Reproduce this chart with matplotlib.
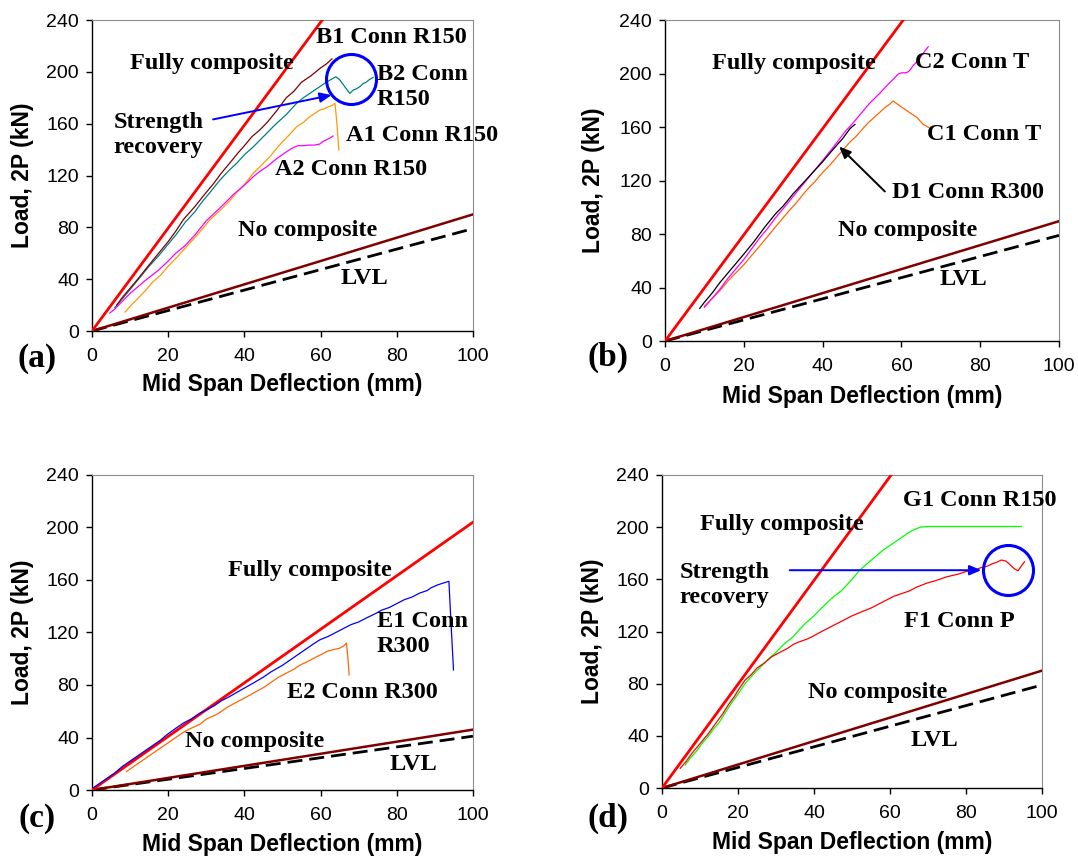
import matplotlib
matplotlib.use("Agg")
import matplotlib.pyplot as plt

# ---------------------------------------------------------------- data
# Reference lines (deflection mm, load kN) for each panel
full_a_x, full_a_y = [0, 100], [0, 397]
nocomp_a_x, nocomp_a_y = [0, 100], [0, 90]
lvl_a_x, lvl_a_y = [0, 100], [0, 79]

full_b_x, full_b_y = [0, 100], [0, 397]
nocomp_b_x, nocomp_b_y = [0, 100], [0, 89.6]
lvl_b_x, lvl_b_y = [0, 100], [0, 79]

full_c_x, full_c_y = [0, 100], [0, 204]
nocomp_c_x, nocomp_c_y = [0, 100], [0, 46]
lvl_c_x, lvl_c_y = [0, 100], [0, 41]

full_d_x, full_d_y = [0, 100], [0, 398]
nocomp_d_x, nocomp_d_y = [0, 100], [0, 90]
lvl_d_x, lvl_d_y = [0, 100], [0, 79]

# (a) connection R150 beams
b1_x = [6.5, 8, 10, 12, 15, 17.5, 20, 22, 24, 27, 30, 32, 34, 36, 38.5, 40, 42,
        44, 46, 48.5, 51, 53, 55, 57.5, 60, 61.5, 63]
b1_y = [20, 26, 33, 40, 51, 60, 69, 77, 86, 96, 107, 114, 122, 129, 138, 143, 150,
        155, 161, 170, 180, 185, 192, 197, 203, 206, 210]
b2_x = [6, 8, 10, 12.5, 15, 17.5, 20, 22, 24.5, 27, 29, 31, 33.6, 36, 38, 40, 42.3,
        45, 48, 51, 53.7, 55.5, 57, 58.5, 59.8, 61, 62.5, 64, 65, 66, 67, 67.7,
        68.6, 69.5, 70.5, 71.2, 72, 72.8, 73.8]
b2_y = [18, 25, 32, 41, 50, 58, 67, 74, 84, 92, 100, 107, 116.5, 124, 129.5, 136, 142,
        150, 159, 167, 175.7, 180, 183, 186, 188.5, 191, 193.7, 196.2, 194, 190, 186,
        183.4, 186, 187, 189, 191, 192, 194, 195.7]
a1_x = [8.7, 10, 12, 14, 16, 18, 20, 22, 24.5, 27, 28.9, 31, 33.6, 36, 38, 40, 42.3,
        44.5, 46.7, 48.5, 50, 52, 53.7, 55.5, 57, 58.5, 59.8, 61, 62, 63, 63.8,
        64.3, 64.8]
a1_y = [14.7, 19, 25, 31, 38, 43, 50, 56, 64, 72, 78.5, 86, 93, 100, 107, 113, 121.7,
        128, 134.5, 141, 146, 152, 157.6, 161, 165, 168, 170.5, 171.5, 173, 174, 175.7,
        160, 139.7]
a2_x = [4.7, 6, 8, 10, 12, 14, 17.5, 20, 22, 24.5, 27, 30, 33.6, 35, 37, 40.2, 42.3,
        44, 46, 48.5, 51.1, 52.5, 54, 55.5, 57, 58.5, 59.8, 60.5, 61.5, 62.5, 63.3]
a2_y = [13.9, 17, 23, 29, 34, 39, 47, 54, 60, 66, 74, 85, 95, 99, 105, 113, 119,
        123, 127, 133, 138.4, 141, 143, 143, 143.5, 143.5, 144.3, 146, 147.5, 149, 150.5]

# (b) connection T and R300 beams
c2_x = [10, 12, 14, 16, 18, 20, 22, 24, 26, 28, 30, 32.5, 35, 37.5, 40, 43, 45.7,
        48, 50, 52, 54.5, 56, 57, 58, 59.2, 60, 61.3, 62, 63, 64, 65, 66, 66.8]
c2_y = [25.2, 32, 39, 47, 54, 61, 69, 77, 84, 92, 99, 108, 117, 126, 135, 146, 156.5,
        164, 171, 178, 185.2, 190, 193, 196, 199.6, 200.5, 200.6, 202, 206, 209, 213,
        217, 220]
c1_x = [10, 12, 14, 16, 18, 20, 22, 24, 26, 28.5, 31.3, 33.5, 36, 38, 40, 42, 44,
        45.5, 47, 48.5, 49.9, 51.5, 53, 54.5, 56, 57, 57.9, 59.5, 61, 62.5, 64, 65.5,
        67]
c1_y = [26, 32, 38, 45, 51, 57, 64, 71, 78, 87, 96.7, 104, 113, 119, 126, 132, 139,
        144, 149, 153, 157.8, 163, 167, 171, 175, 177, 179.5, 176, 173, 170, 167, 162,
        159.6]
d1_x = [8.8, 10, 12, 14, 16, 18, 20, 22.5, 25.4, 28, 30, 32.5, 35, 37.5, 40, 42,
        44, 45, 46, 47, 48.2]
d1_y = [24.4, 29, 36, 44, 51, 58, 65, 74, 85.5, 95, 101, 110, 118, 126, 134, 141,
        147.8, 151, 155, 159, 162]

# (c) connection R300 beams
e1_x = [0.5, 2, 3, 5, 6, 8, 10, 12, 14, 16, 18, 19.6, 22, 24, 26, 28, 30, 32, 34,
        36, 39, 42.3, 45, 47, 50, 52, 54, 56, 58, 59.8, 62, 64, 66, 68, 70, 72, 74.7,
        76, 78, 80, 82, 84, 86, 88, 89, 90.5, 91.5, 93.7, 94.2, 94.9]
e1_y = [2, 5, 7, 11, 13, 18, 22, 26, 30, 34, 38, 42, 47, 51, 54, 58, 61, 64, 68,
        71, 76, 81.4, 86, 90, 95, 99, 103, 107, 111, 114.4, 117, 120, 123, 126, 128,
        131, 134.8, 137, 139, 142, 145, 147, 150, 152, 154, 156, 157, 159, 130, 91.5]
e2_x = [9.1, 10, 12, 14, 16, 18, 20, 22, 24, 26, 28.3, 30, 33, 35.5, 38, 40, 42.3,
        45, 47, 49, 51, 53, 54.5, 56, 58, 60, 62, 63.5, 65, 66.2, 66.8, 67.2, 67.5]
e2_y = [14, 16, 20, 24, 28, 32, 36, 40, 44, 47, 50, 54, 58, 63, 67, 70, 73.7,
        78, 82, 86, 89, 92, 95, 97, 100, 103, 106, 107, 108, 110, 112, 100, 87.7]

# (d) connection R150 and P beams
g1_x = [6.1, 7.5, 9, 10.5, 12, 13.5, 15, 16.5, 18, 20, 21.9, 24, 26, 28, 30, 32,
        34.5, 36, 38, 40, 42, 44.5, 47.4, 50, 52, 54, 56, 58, 60, 61.5, 63, 65, 66.5,
        68, 69.6, 80, 94.6]
g1_y = [17.6, 23, 28, 34, 39, 45, 50, 57, 64, 72, 80.3, 87, 93, 99, 104, 110,
        116, 121, 127, 132, 138, 145, 151.8, 160, 167, 172, 177, 182, 186, 189, 192,
        196, 198.3, 200, 200.5, 200.5, 200.5]
f1_x = [4.8, 6.5, 8, 10, 12, 14, 16, 17.5, 19, 20.5, 21.9, 23.5, 25, 27, 28.9, 31,
        33, 34.5, 36, 38, 39.5, 42, 44, 46, 48, 50, 52.6, 55, 57, 59, 61, 63, 65, 67,
        69.6, 72, 75, 78, 80, 82, 84, 85.5, 87, 88, 89.3, 90.5, 91.3, 92, 92.8, 93.7,
        94.5, 95.4]
f1_y = [15.1, 21, 27, 34, 41, 49, 57, 64, 70, 77, 82.8, 87, 92, 96, 100.7, 104,
        107, 110, 112, 114, 116, 120, 123, 126, 129, 132, 135.2, 138, 141, 144, 147, 149,
        151, 154, 157, 159, 162, 164, 166, 167, 169, 170, 172, 173, 174.8, 174, 172, 170,
        168, 166.6, 170, 173.5]

# ---------------------------------------------------------------- style
RED = "#FF0000"
MAROON = "#800000"
SERIF = "Liberation Serif"
SANS = "Liberation Sans"

fig = plt.figure(figsize=(10.78, 8.56), dpi=100)

axes_boxes = {
    "a": [0.0853, 0.6133, 0.3534, 0.3633],
    "b": [0.6169, 0.6016, 0.3655, 0.3750],
    "c": [0.0853, 0.0771, 0.3534, 0.3680],
    "d": [0.6141, 0.0794, 0.3525, 0.3657],
}


def make_axes(box):
    ax = fig.add_axes(box)
    ax.set_xlim(0, 100)
    ax.set_ylim(0, 240)
    ax.set_xticks(range(0, 101, 20))
    ax.set_yticks(range(0, 241, 40))
    for side in ("left", "bottom"):
        ax.spines[side].set_color("black")
        ax.spines[side].set_linewidth(1.0)
    for side in ("top", "right"):
        ax.spines[side].set_color("#8c8c8c")
        ax.spines[side].set_linewidth(0.8)
    ax.tick_params(axis="both", direction="out", length=4.3, width=1.0,
                   labelsize=14, colors="black")
    ax.tick_params(axis="x", pad=8)
    ax.tick_params(axis="y", pad=5)
    for lab in ax.get_xticklabels() + ax.get_yticklabels():
        lab.set_fontfamily(SANS)
    ax.set_xlabel("Mid Span Deflection (mm)", fontsize=16.5, fontweight="bold",
                  fontfamily=SANS, va="center")
    ax.set_ylabel("Load, 2P (kN)", fontsize=16.5, fontweight="bold",
                  fontfamily=SANS, va="center")
    ax.xaxis.set_label_coords(0.5, -0.173)
    ax.yaxis.set_label_coords(-0.182, 0.5)
    return ax


def reference_lines(ax, fx, fy, nx, ny, lx, ly):
    ax.plot(lx, ly, color="black", lw=2.0, ls=(0, (5.4, 2.5)), zorder=2)
    ax.plot(nx, ny, color=MAROON, lw=1.8, zorder=3)
    ax.plot(fx, fy, color=RED, lw=2.0, zorder=4)


def label(ax, x, y, s, **kw):
    ax.text(x, y, s, fontsize=17.5, fontweight="bold", fontfamily=SERIF,
            ha="left", va="center", linespacing=1.25, zorder=6, **kw)


def circle(ax, x, y):
    ax.plot([x], [y], marker="o", ms=36, mfc="none", mec="#0000FF", mew=2.2,
            zorder=7, clip_on=False)


def arrow(ax, x0, y0, x1, y1, color):
    ax.annotate("", xy=(x1, y1), xytext=(x0, y0),
                arrowprops=dict(arrowstyle="-|>,head_length=0.7,head_width=0.3",
                                color=color, lw=1.4, shrinkA=0, shrinkB=0),
                zorder=7)


# ---------------------------------------------------------------- (a)
ax = make_axes(axes_boxes["a"])
reference_lines(ax, full_a_x, full_a_y, nocomp_a_x, nocomp_a_y, lvl_a_x, lvl_a_y)
ax.plot(a1_x, a1_y, color="#FF9900", lw=0.9, zorder=5)
ax.plot(a2_x, a2_y, color="#FF00FF", lw=0.9, zorder=5)
ax.plot(b2_x, b2_y, color="#008080", lw=0.9, zorder=5)
ax.plot(b1_x, b1_y, color=MAROON, lw=0.9, zorder=5)
label(ax, 10.1, 206.5, "Fully composite")
label(ax, 58.9, 226.6, "B1 Conn R150")
label(ax, 74.7, 188.3, "B2 Conn\nR150")
label(ax, 5.6, 151.5, "Strength\nrecovery")
label(ax, 66.8, 151, "A1 Conn R150")
label(ax, 48, 124.6, "A2 Conn R150")
label(ax, 38.4, 77.3, "No composite")
label(ax, 65.2, 40.4, "LVL")
circle(ax, 68, 194.2)
arrow(ax, 31.8, 163.3, 62.9, 182.1, "#0000FF")

# ---------------------------------------------------------------- (b)
ax = make_axes(axes_boxes["b"])
reference_lines(ax, full_b_x, full_b_y, nocomp_b_x, nocomp_b_y, lvl_b_x, lvl_b_y)
ax.plot(c1_x, c1_y, color="#FF6600", lw=0.9, zorder=5)
ax.plot(c2_x, c2_y, color="#FF00FF", lw=0.9, zorder=5)
ax.plot(d1_x, d1_y, color="black", lw=0.9, zorder=5)
label(ax, 11.8, 207.6, "Fully composite")
label(ax, 63.4, 208, "C2 Conn T")
label(ax, 66.6, 154.6, "C1 Conn T")
label(ax, 57.5, 111, "D1 Conn R300")
label(ax, 43.8, 82.6, "No composite")
label(ax, 69.6, 46.3, "LVL")
arrow(ax, 55.8, 111.8, 44.2, 145.4, "black")

# ---------------------------------------------------------------- (c)
ax = make_axes(axes_boxes["c"])
reference_lines(ax, full_c_x, full_c_y, nocomp_c_x, nocomp_c_y, lvl_c_x, lvl_c_y)
ax.plot(e2_x, e2_y, color="#FF6600", lw=0.9, zorder=5)
ax.plot(e1_x, e1_y, color="#0000FF", lw=0.9, zorder=5)
label(ax, 35.8, 167, "Fully composite")
label(ax, 74.7, 118.5, "E1 Conn\nR300")
label(ax, 51.2, 74.5, "E2 Conn R300")
label(ax, 24.4, 36.9, "No composite")
label(ax, 78, 19.8, "LVL")

# ---------------------------------------------------------------- (d)
ax = make_axes(axes_boxes["d"])
reference_lines(ax, full_d_x, full_d_y, nocomp_d_x, nocomp_d_y, lvl_d_x, lvl_d_y)
ax.plot(g1_x, g1_y, color="#00FF00", lw=0.9, zorder=5)
ax.plot(f1_x, f1_y, color=RED, lw=0.9, zorder=5)
label(ax, 63.4, 220.3, "G1 Conn R150")
label(ax, 9.9, 201.7, "Fully composite")
label(ax, 4.6, 155.6, "Strength\nrecovery")
label(ax, 63.6, 128, "F1 Conn P")
label(ax, 38.4, 73.4, "No composite")
label(ax, 65.4, 36.8, "LVL")
circle(ax, 91.1, 167.2)
arrow(ax, 33.6, 167, 84, 167, "#0000FF")

# ---------------------------------------------------------------- panel tags
W, H = 1078, 856
for tag, (px, py) in {"(a)": (37, 358), "(b)": (608, 357),
                      "(c)": (37, 818), "(d)": (608, 818)}.items():
    fig.text(px / W, 1 - py / H, tag, fontsize=24, fontweight="bold",
             fontfamily=SERIF, ha="center", va="center")

fig.savefig("out.png", dpi=100)
